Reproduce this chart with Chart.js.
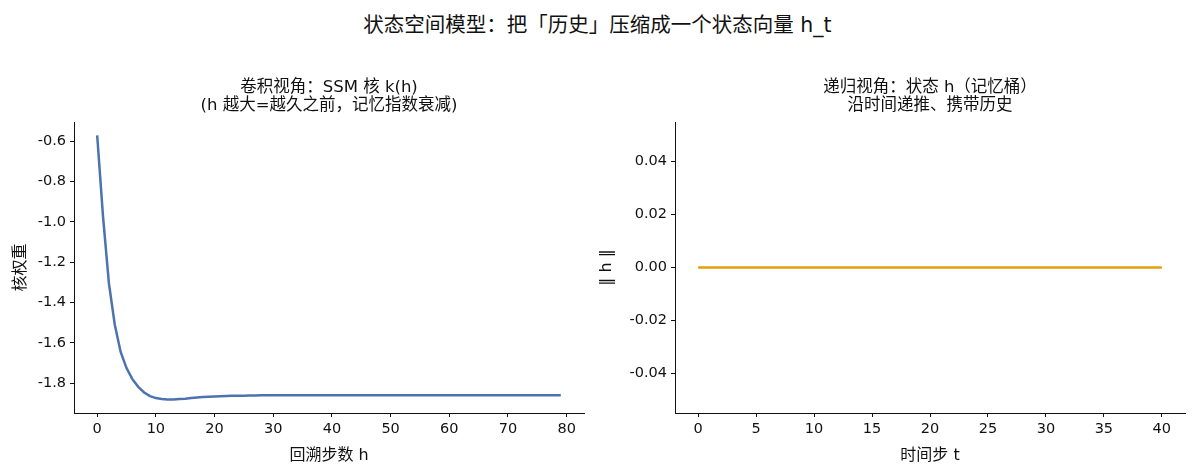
<!DOCTYPE html>
<html>
<head>
<meta charset="utf-8">
<script src="https://cdn.jsdelivr.net/npm/chart.js@4.4.1/dist/chart.umd.min.js"></script>
<style>
  body { margin: 0; background: #fff; width: 1195px; height: 475px; position: relative; overflow: hidden; }
  #suptitle { position: absolute; top: 8px; left: 0; width: 1195px; text-align: center;
    font: 20.5px 'DejaVu Sans', 'Noto Sans CJK SC', sans-serif; color: #111; }
  .panel { position: absolute; top: 60px; height: 415px; }
  #left { left: 0; width: 600px; }
  #right { left: 590px; width: 605px; }
</style>
</head>
<body>
<div id="suptitle">状态空间模型：把「历史」压缩成一个状态向量 h_t</div>
<div class="panel" id="left"><canvas id="kernel-chart"></canvas></div>
<div class="panel" id="right"><canvas id="state-chart"></canvas></div>
<script>
// left panel: convolution kernel k(h)
const lagSteps = Array.from({ length: 80 }, (_, i) => i);
const kernelWeights = [
  -0.570, -0.975, -1.305, -1.510, -1.645, -1.725, -1.780, -1.818, -1.846, -1.864,
  -1.874, -1.879, -1.881, -1.881, -1.879, -1.877, -1.874, -1.871, -1.869, -1.867,
  -1.866, -1.865, -1.864, -1.863, -1.862, -1.862, -1.861, -1.861, -1.860, -1.860,
  -1.860, -1.860, -1.860, -1.860, -1.860, -1.860, -1.860, -1.860, -1.860, -1.860,
  -1.860, -1.860, -1.860, -1.860, -1.860, -1.860, -1.860, -1.860, -1.860, -1.860,
  -1.860, -1.860, -1.860, -1.860, -1.860, -1.860, -1.860, -1.860, -1.860, -1.860,
  -1.860, -1.860, -1.860, -1.860, -1.860, -1.860, -1.860, -1.860, -1.860, -1.860,
  -1.860, -1.860, -1.860, -1.860, -1.860, -1.860, -1.860, -1.860, -1.860, -1.860
];
const kernelXTicks = [0, 10, 20, 30, 40, 50, 60, 70, 80];
const kernelYTicks = [-1.8, -1.6, -1.4, -1.2, -1.0, -0.8, -0.6];

// right panel: state norm over time
const timeSteps = Array.from({ length: 41 }, (_, i) => i);
const stateNorms = [
  0, 0, 0, 0, 0, 0, 0, 0, 0, 0,
  0, 0, 0, 0, 0, 0, 0, 0, 0, 0,
  0, 0, 0, 0, 0, 0, 0, 0, 0, 0,
  0, 0, 0, 0, 0, 0, 0, 0, 0, 0, 0
];
const stateXTicks = [0, 5, 10, 15, 20, 25, 30, 35, 40];
const stateYTicks = [-0.04, -0.02, 0.00, 0.02, 0.04];

const FONT = "'DejaVu Sans', 'Noto Sans CJK SC', sans-serif";
const INK = '#111';

function axisStyle(ticks, digits, extra) {
  return Object.assign({
    type: 'linear',
    grid: { display: true, drawOnChartArea: false, drawTicks: true, tickLength: 4, color: INK },
    border: { display: true, color: INK, width: 1 },
    afterBuildTicks: s => { s.ticks = ticks.map(v => ({ value: v })); },
    ticks: {
      color: INK,
      font: { family: FONT, size: 14.5 },
      padding: 4,
      callback: v => v.toFixed(digits)
    }
  }, extra);
}

function makeChart(id, xs, ys, color, cfg) {
  return new Chart(document.getElementById(id), {
    type: 'line',
    data: {
      datasets: [{
        data: xs.map((x, i) => ({ x: x, y: ys[i] })),
        borderColor: color,
        borderWidth: 2.5,
        pointRadius: 0,
        tension: 0,
        fill: false
      }]
    },
    options: {
      responsive: true,
      maintainAspectRatio: false,
      animation: false,
      layout: { padding: { left: 0, right: cfg.padRight, top: 0, bottom: 0 } },
      plugins: {
        legend: { display: false },
        tooltip: { enabled: false },
        title: {
          display: true,
          text: cfg.title,
          fullSize: false,
          color: INK,
          font: { family: FONT, size: 16.5, weight: 'normal', lineHeight: '18px' },
          padding: { top: 19, bottom: 7 }
        }
      },
      scales: {
        x: axisStyle(cfg.xTicks, 0, {
          min: cfg.xMin, max: cfg.xMax,
          afterFit: s => { s.height = 62; },
          title: { display: true, text: cfg.xTitle, color: INK,
                   font: { family: FONT, size: 16 }, padding: { top: 0, bottom: 10 } }
        }),
        y: axisStyle(cfg.yTicks, cfg.yDigits, {
          min: cfg.yMin, max: cfg.yMax,
          afterFit: s => { s.width = cfg.yWidth; },
          title: { display: true, text: cfg.yTitle, color: INK,
                   font: { family: FONT, size: 16 }, padding: { top: cfg.yTitlePad, bottom: 0 } }
        })
      }
    }
  });
}

makeChart('kernel-chart', lagSteps, kernelWeights, '#4C72B0', {
  title: ['卷积视角：SSM 核 k(h)', '(h 越大=越久之前，记忆指数衰减)'],
  xTicks: kernelXTicks, yTicks: kernelYTicks, yDigits: 1,
  xMin: -3.95, xMax: 82.95, yMin: -1.948, yMax: -0.504,
  xTitle: '回溯步数 h', yTitle: '核权重',
  yWidth: 74, yTitlePad: 11, padRight: 16
});

makeChart('state-chart', timeSteps, stateNorms, '#E3A008', {
  title: ['递归视角：状态 h（记忆桶）', '沿时间递推、携带历史'],
  xTicks: stateXTicks, yTicks: stateYTicks, yDigits: 2,
  xMin: -2, xMax: 42, yMin: -0.055, yMax: 0.055,
  xTitle: '时间步 t', yTitle: '‖ h ‖',
  yWidth: 85, yTitlePad: 7, padRight: 10
});
</script>
</body>
</html>
